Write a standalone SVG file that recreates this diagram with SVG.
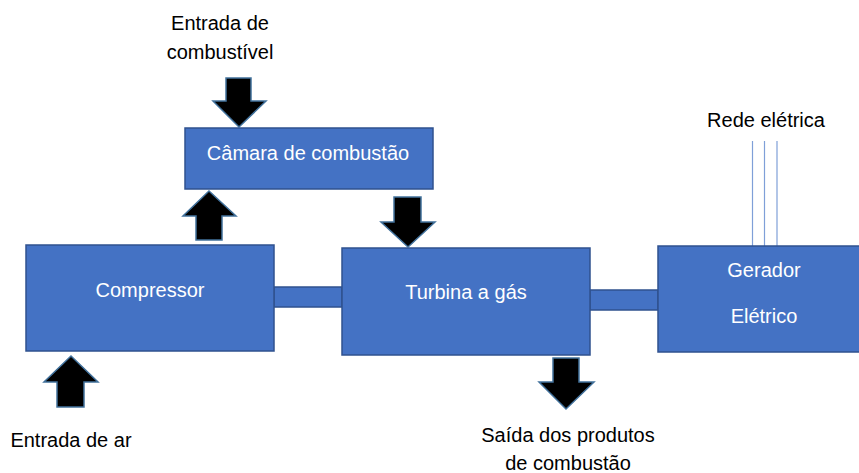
<svg xmlns="http://www.w3.org/2000/svg" width="859" height="473" viewBox="0 0 859 473">
<style>
.box{fill:#4472C4;stroke:#2F528F;stroke-width:1.5}
.arr{fill:#000;stroke:#41719C;stroke-width:1.5;stroke-linejoin:miter}
.wt{font-family:"Liberation Sans",Arial,sans-serif;font-size:20px;fill:#fff;text-anchor:middle}
.bt{font-family:"Liberation Sans",Arial,sans-serif;font-size:20px;fill:#000;text-anchor:middle}
.grid{stroke:#7F9FD8;stroke-width:1.2}
</style>
<rect width="859" height="473" fill="#fff"/>
<g id="connectors">
<rect class="box" x="274" y="287" width="68" height="20"/>
<rect class="box" x="590" y="290" width="68" height="20"/>
<line class="grid" x1="752.5" y1="141" x2="752.5" y2="246"/>
<line class="grid" x1="764.5" y1="141" x2="764.5" y2="246"/>
<line class="grid" x1="777" y1="141" x2="777" y2="246"/>
<polygon class="arr" points="226,78 251,78 251,101 266,101 239,127 213,101 226,101"/>
<polygon class="arr" points="196,240 222,240 222,216 236,216 209,191 183,216 196,216"/>
<polygon class="arr" points="394,197 421,197 421,222 435,222 408,247 381,222 394,222"/>
<polygon class="arr" points="553,358 579,358 579,382 594,382 566,409 539,382 553,382"/>
<polygon class="arr" points="57,407 84,407 84,382 98,382 71,356 44,382 57,382"/>
</g>
<g id="camara">
<rect class="box" x="185" y="128" width="248" height="61"/>
<text class="wt" x="308" y="160">Câmara de combustão</text>
</g>
<g id="compressor">
<rect class="box" x="26" y="245" width="248" height="106"/>
<text class="wt" x="150" y="297">Compressor</text>
</g>
<g id="turbina">
<rect class="box" x="342" y="248" width="248" height="107"/>
<text class="wt" x="466" y="299">Turbina a gás</text>
</g>
<g id="gerador">
<rect class="box" x="658" y="246" width="215" height="106"/>
<text class="wt" x="764" y="277">Gerador</text>
<text class="wt" x="764" y="323">Elétrico</text>
</g>
<g id="labels">
<text class="bt" x="220" y="30">Entrada de</text>
<text class="bt" x="220" y="59">combustível</text>
<text class="bt" x="766" y="127">Rede elétrica</text>
<text class="bt" x="71" y="447">Entrada de ar</text>
<text class="bt" x="568" y="442">Saída dos produtos</text>
<text class="bt" x="568" y="470">de combustão</text>
</g>
</svg>
